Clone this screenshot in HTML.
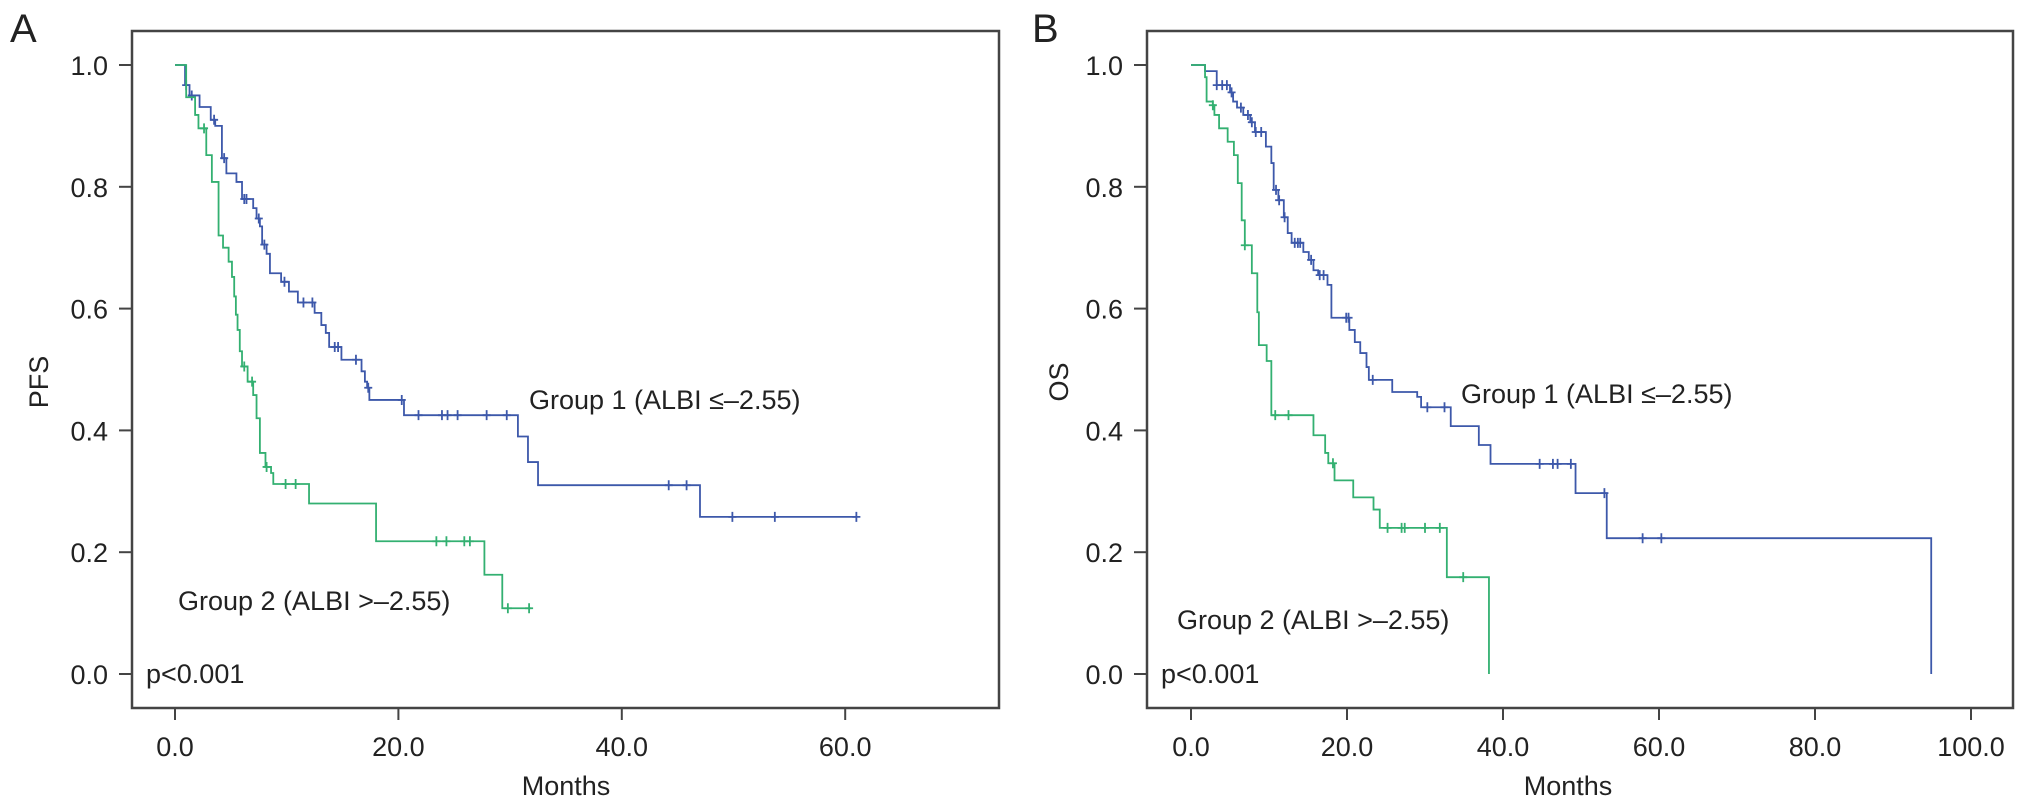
<!DOCTYPE html>
<html><head><meta charset="utf-8"><style>
html,body{margin:0;padding:0;background:#fff;}
svg{display:block;font-family:"Liberation Sans",Arial,sans-serif;}
</style></head><body>
<svg id="chart" width="2032" height="807" viewBox="0 0 2032 807" xmlns="http://www.w3.org/2000/svg">
<g id="panelA"></g>
<g id="panelB"></g>
</svg>
<script>
// Panel A (PFS)
const aXTicks = [0, 20, 40, 60];
const aXTickLabels = ["0.0", "20.0", "40.0", "60.0"];
const yTicks = [0, 0.2, 0.4, 0.6, 0.8, 1.0];
const yTickLabels = ["0.0", "0.2", "0.4", "0.6", "0.8", "1.0"];
const aG1Times = [0, 0.9, 1.3, 2.2, 3.2, 3.6, 4.2, 4.6, 5.5, 6.0, 7.0, 7.3, 7.6, 7.8, 8.2, 8.5, 9.5, 10.2, 11.0, 12.5, 13.1, 13.5, 13.8, 14.9, 16.7, 17.0, 17.2, 17.4, 20.5, 30.7, 31.6, 32.5, 47.0];
const aG1Surv = [1, 0.967, 0.95, 0.931, 0.91, 0.90, 0.847, 0.822, 0.808, 0.78, 0.765, 0.748, 0.735, 0.705, 0.69, 0.658, 0.644, 0.628, 0.61, 0.593, 0.573, 0.56, 0.537, 0.516, 0.497, 0.48, 0.47, 0.45, 0.425, 0.39, 0.348, 0.31, 0.258];
const aG1End = 61.0;
const aG1Censor = [1.0, 1.5, 3.5, 4.4, 6.2, 6.4, 7.5, 8.0, 9.8, 11.5, 12.3, 14.3, 14.6, 16.2, 17.3, 20.3, 21.8, 23.9, 24.4, 25.3, 27.9, 29.7, 44.2, 45.8, 49.9, 53.7, 61.0];
const aG2Times = [0, 1.0, 1.8, 2.1, 2.8, 3.3, 3.9, 4.3, 4.8, 5.1, 5.3, 5.45, 5.6, 5.8, 6.0, 6.5, 7.0, 7.3, 7.6, 8.1, 8.6, 8.8, 12.0, 18.0, 27.7, 29.3];
const aG2Surv = [1, 0.947, 0.918, 0.896, 0.852, 0.808, 0.72, 0.70, 0.677, 0.652, 0.62, 0.59, 0.565, 0.53, 0.505, 0.48, 0.458, 0.42, 0.363, 0.34, 0.33, 0.312, 0.28, 0.218, 0.163, 0.108];
const aG2End = 31.9;
const aG2Censor = [2.6, 6.2, 6.9, 8.2, 9.9, 10.8, 23.4, 24.3, 25.9, 26.4, 29.8, 31.7];
// Panel B (OS)
const bXTicks = [0, 20, 40, 60, 80, 100];
const bXTickLabels = ["0.0", "20.0", "40.0", "60.0", "80.0", "100.0"];
const bG1Times = [0, 1.8, 3.3, 5.0, 5.4, 5.9, 6.7, 7.6, 8.2, 9.6, 10.3, 10.6, 11.2, 11.9, 12.4, 12.9, 14.4, 15.1, 15.7, 16.3, 17.5, 18.0, 20.3, 21.0, 21.7, 22.5, 22.8, 25.8, 29.0, 29.5, 33.3, 36.9, 38.4, 49.3, 53.3, 94.9];
const bG1Surv = [1, 0.99, 0.967, 0.955, 0.94, 0.93, 0.918, 0.906, 0.89, 0.866, 0.839, 0.795, 0.778, 0.75, 0.724, 0.708, 0.693, 0.68, 0.663, 0.655, 0.639, 0.585, 0.565, 0.545, 0.527, 0.504, 0.483, 0.463, 0.455, 0.438, 0.407, 0.376, 0.345, 0.297, 0.223, 0];
const bG1End = 94.9;
const bG1Censor = [3.3, 4.0, 4.6, 5.2, 6.4, 7.3, 7.8, 8.3, 9.0, 10.9, 11.3, 12.0, 13.3, 13.7, 14.0, 15.4, 16.5, 17.0, 19.9, 20.2, 23.3, 30.3, 32.5, 44.7, 46.4, 47.0, 48.7, 53.0, 57.9, 60.3];
const bG2Times = [0, 1.8, 2.0, 2.8, 3.0, 3.6, 4.7, 5.5, 6.0, 6.5, 6.9, 7.8, 8.5, 8.7, 9.7, 10.3, 15.7, 17.2, 17.6, 18.4, 20.8, 23.4, 24.2, 32.8, 38.2];
const bG2Surv = [1, 0.98, 0.94, 0.934, 0.918, 0.896, 0.874, 0.852, 0.806, 0.745, 0.704, 0.658, 0.594, 0.54, 0.514, 0.425, 0.392, 0.363, 0.346, 0.318, 0.29, 0.27, 0.24, 0.159, 0];
const bG2End = 38.2;
const bG2Censor = [2.8, 6.9, 10.8, 12.5, 18.2, 25.2, 27.0, 27.4, 30.0, 31.9, 34.9];

const NS = "http://www.w3.org/2000/svg";
const BLUE = "#3d58aa", GREEN = "#33b071", INK = "#222";
function mk(parent, tag, attrs) {
  const e = document.createElementNS(NS, tag);
  for (const k in attrs) e.setAttribute(k, attrs[k]);
  parent.appendChild(e);
  return e;
}
function survAt(times, surv, t) {
  let v = surv[0];
  for (let i = 0; i < times.length; i++) { if (times[i] <= t) v = surv[i]; }
  return v;
}
function drawPanel(g, cfg) {
  const xs = t => cfg.x0 + t * cfg.xScale;
  const ys = v => 674 - v * 609;
  const box = mk(g, "rect", {x: cfg.left, y: 31, width: cfg.right - cfg.left, height: 677, fill: "none", stroke: "#444", "stroke-width": 2.5});
  
  
  yTicks.forEach((v, i) => {
    const tk = mk(g, "line", {x1: cfg.left - 13, x2: cfg.left, y1: ys(v), y2: ys(v), stroke: "#444", "stroke-width": 2});
    
    
    const lb = mk(g, "text", {x: cfg.left - 24, y: ys(v) + 10, "text-anchor": "end", "font-size": 27, fill: INK});
    lb.textContent = yTickLabels[i];
    
    
  });
  cfg.xTicks.forEach((t, i) => {
    const tk = mk(g, "line", {x1: xs(t), x2: xs(t), y1: 708, y2: 720, stroke: "#444", "stroke-width": 2});
    
    
    const lb = mk(g, "text", {x: xs(t), y: 756, "text-anchor": "middle", "font-size": 27, fill: INK});
    lb.textContent = cfg.xLabels[i];
    
    
  });
  cfg.series.forEach(s => {
    let d = "M" + xs(s.times[0]) + "," + ys(s.surv[0]);
    for (let i = 1; i < s.times.length; i++) {
      d += " H" + xs(s.times[i]) + " V" + ys(s.surv[i]);
    }
    d += " H" + xs(s.end);
    const p = mk(g, "path", {d: d, fill: "none", stroke: s.color, "stroke-width": 1.8});
    
    
    s.censor.forEach(t => {
      const cx = xs(t), cy = ys(survAt(s.times, s.surv, t));
      const c = mk(g, "path", {d: "M" + cx + "," + (cy - 5) + " V" + (cy + 5) + " M" + (cx - 4) + "," + cy + " H" + (cx + 4), stroke: s.color, "stroke-width": 1.8, fill: "none"});
      
      
    });
  });
  const texts = [
    [cfg.letter, cfg.letterX, 42, 40, "start", 0, "panel-letter"],
    [cfg.yTitle, cfg.yTitleX, 382, 27, "middle", -90, "y-axis-title"],
    ["Months", cfg.monthsX, 795, 27, "middle", 0, "x-axis-title"],
    ["p<0.001", cfg.left + 14, 683, 27, "start", 0, "p-value-label"],
    ["Group 1 (ALBI \u2264\u20132.55)", cfg.g1x, cfg.g1y, 27, "start", 0, "group1-label"],
    ["Group 2 (ALBI >\u20132.55)", cfg.g2x, cfg.g2y, 27, "start", 0, "group2-label"]
  ];
  texts.forEach(tt => {
    const e = mk(g, "text", {x: tt[1], y: tt[2], "font-size": tt[3], "text-anchor": tt[4], fill: INK});
    if (tt[5]) e.setAttribute("transform", "rotate(" + tt[5] + " " + tt[1] + " " + tt[2] + ")");
    e.textContent = tt[0];
    
    
  });
}
drawPanel(document.getElementById("panelA"), {
  left: 132, right: 999, x0: 175, xScale: 11.17, xTicks: aXTicks, xLabels: aXTickLabels,
  letter: "A", letterX: 10, yTitle: "PFS", yTitleX: 48, monthsX: 566,
  g1x: 529, g1y: 409, g2x: 178, g2y: 610,
  series: [
    {name: "group1", times: aG1Times, surv: aG1Surv, end: aG1End, censor: aG1Censor, color: BLUE},
    {name: "group2", times: aG2Times, surv: aG2Surv, end: aG2End, censor: aG2Censor, color: GREEN}
  ]
});
drawPanel(document.getElementById("panelB"), {
  left: 1147, right: 2013, x0: 1191, xScale: 7.8, xTicks: bXTicks, xLabels: bXTickLabels,
  letter: "B", letterX: 1032, yTitle: "OS", yTitleX: 1068, monthsX: 1568,
  g1x: 1461, g1y: 403, g2x: 1177, g2y: 629,
  series: [
    {name: "group1", times: bG1Times, surv: bG1Surv, end: bG1End, censor: bG1Censor, color: BLUE},
    {name: "group2", times: bG2Times, surv: bG2Surv, end: bG2End, censor: bG2Censor, color: GREEN}
  ]
});
</script>
</body></html>
